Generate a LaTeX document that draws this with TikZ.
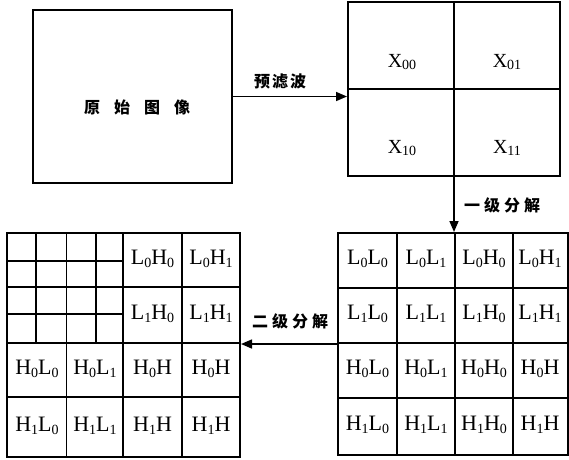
\documentclass[tikz,border=0pt]{standalone}
\usepackage{fontspec}
\setmainfont{Liberation Serif}
\newfontfamily\cjk{Noto Sans CJK SC}
\usetikzlibrary{arrows.meta}
\newcommand\sbx[1]{\raisebox{-0.3ex}{\fontsize{14}{14}\selectfont #1}}
\newcommand\lab[4]{#1\sbx{#2}#3\sbx{#4}}
\tikzset{
  box/.style={draw, line width=2pt, inner sep=0pt},
  gridline/.style={line width=1.6pt},
  conn/.style={line width=1.6pt, -{Triangle[length=11pt,width=9pt]}},
  cell/.style={inner sep=0pt, font=\fontsize{22}{22}\selectfont},
  xcell/.style={inner sep=0pt, font=\fontsize{20}{20}\selectfont},
  cjklab/.style={inner sep=0pt, font=\cjk\bfseries\fontsize{16}{16}\selectfont},
}
\begin{document}
\begin{tikzpicture}[x=1pt,y=-1pt]
\useasboundingbox (0,0) rectangle (569,459);
% original image box
\node[box, minimum width=199pt, minimum height=173pt] (orig) at (132.5,96.5) {};
\node[cjklab] (origtxt) at (137,107) {原\hskip14pt始\hskip14pt图\hskip14pt像};
% top grid
\node[box, minimum width=212pt, minimum height=174pt] (g1) at (454,89) {};
\draw[gridline] (g1.north) -- (g1.south);
\draw[gridline] (g1.west) -- (g1.east);
\node[xcell] (x00) at (402,62) {X\sbx{00}};
\node[xcell] (x01) at (507,62) {X\sbx{01}};
\node[xcell] (x10) at (402,148) {X\sbx{10}};
\node[xcell] (x11) at (507,148) {X\sbx{11}};
% bottom right grid
\node[box, minimum width=229.5pt, minimum height=222pt] (g2) at (452.75,344) {};
\foreach \x in {397,455,513} \draw[gridline] (\x,233) -- (\x,455);
\foreach \y in {288,343,398} \draw[gridline] (338,\y) -- (567.5,\y);
\node[cell] (a11) at (367.5,259) {\lab{L}{0}{L}{0}};
\node[cell] (a12) at (426,259) {\lab{L}{0}{L}{1}};
\node[cell] (a13) at (484,259) {\lab{L}{0}{H}{0}};
\node[cell] (a14) at (540,259) {\lab{L}{0}{H}{1}};
\node[cell] (a21) at (367.5,314) {\lab{L}{1}{L}{0}};
\node[cell] (a22) at (426,314) {\lab{L}{1}{L}{1}};
\node[cell] (a23) at (484,314) {\lab{L}{1}{H}{0}};
\node[cell] (a24) at (540,314) {\lab{L}{1}{H}{1}};
\node[cell] (a31) at (367.5,369) {\lab{H}{0}{L}{0}};
\node[cell] (a32) at (426,369) {\lab{H}{0}{L}{1}};
\node[cell] (a33) at (484,369) {\lab{H}{0}{H}{0}};
\node[cell] (a34) at (540,369) {\lab{H}{0}{H}{}};
\node[cell] (a41) at (367.5,425) {\lab{H}{1}{L}{0}};
\node[cell] (a42) at (426,425) {\lab{H}{1}{L}{1}};
\node[cell] (a43) at (484,425) {\lab{H}{1}{H}{0}};
\node[cell] (a44) at (540,425) {\lab{H}{1}{H}{}};
% bottom left grid
\node[box, minimum width=233pt, minimum height=224pt] (g3) at (123.5,345) {};
\foreach \x in {36,96} \draw[gridline] (\x,233) -- (\x,343);
\foreach \y in {261,314} \draw[gridline] (7,\y) -- (123,\y);
\draw[gridline] (66.5,233) -- (66.5,457);
\foreach \x in {123,182} \draw[gridline] (\x,233) -- (\x,457);
\foreach \y in {287,343,397} \draw[gridline] (7,\y) -- (240,\y);
\node[cell] (b13) at (152.5,259) {\lab{L}{0}{H}{0}};
\node[cell] (b14) at (211,259) {\lab{L}{0}{H}{1}};
\node[cell] (b23) at (152.5,314) {\lab{L}{1}{H}{0}};
\node[cell] (b24) at (211,314) {\lab{L}{1}{H}{1}};
\node[cell] (b31) at (37,369) {\lab{H}{0}{L}{0}};
\node[cell] (b32) at (95,369) {\lab{H}{0}{L}{1}};
\node[cell] (b33) at (152.5,369) {\lab{H}{0}{H}{}};
\node[cell] (b34) at (211,369) {\lab{H}{0}{H}{}};
\node[cell] (b41) at (37,426) {\lab{H}{1}{L}{0}};
\node[cell] (b42) at (95,426) {\lab{H}{1}{L}{1}};
\node[cell] (b43) at (152.5,426) {\lab{H}{1}{H}{}};
\node[cell] (b44) at (211,426) {\lab{H}{1}{H}{}};
% connectors
\draw[conn] (orig.east) -- (orig.east -| g1.west);
\node[cjklab] (l1) at (280,82) {预\hskip2pt滤\hskip2pt波};
\draw[conn] (g1.south) -- (g1.south |- g2.north);
\node[cjklab] (l2) at (502,205) {一\hskip4pt级\hskip4pt分\hskip4pt解};
\draw[conn] (g2.west) -- (g2.west -| g3.east);
\node[cjklab] (l3) at (290,321) {二\hskip4pt级\hskip4pt分\hskip4pt解};
\end{tikzpicture}
\end{document}
